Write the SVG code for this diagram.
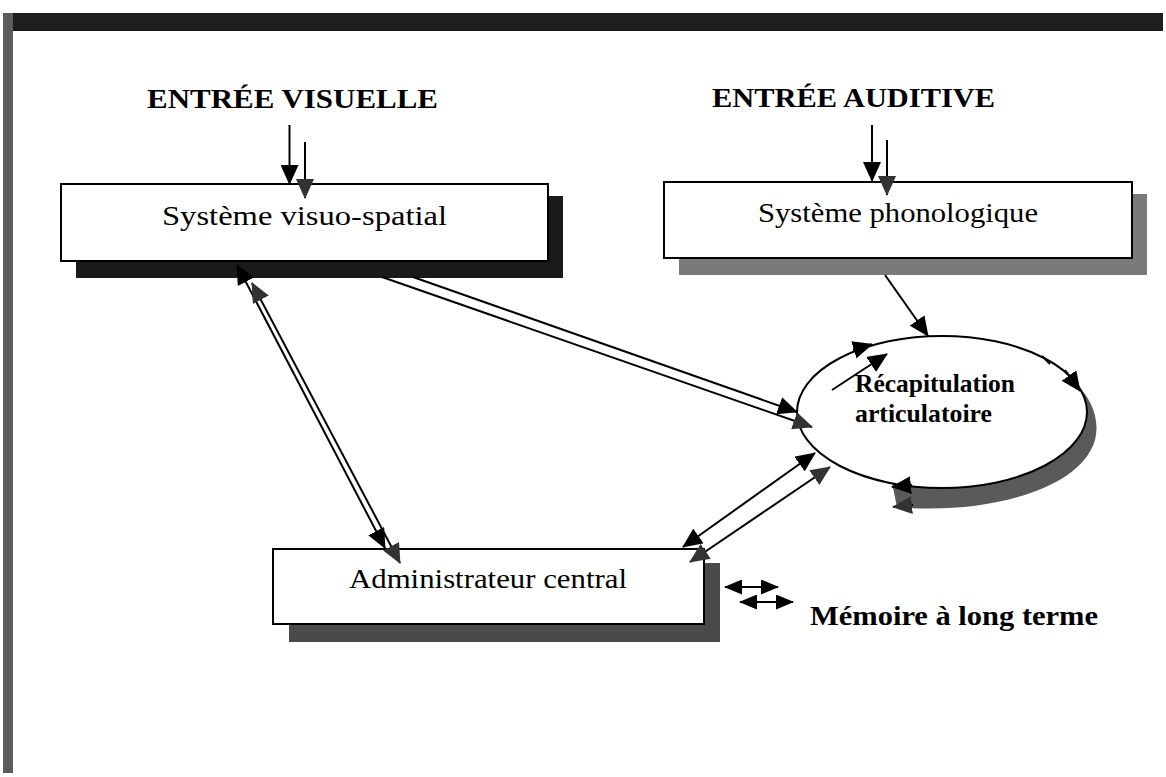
<svg xmlns="http://www.w3.org/2000/svg" width="1166" height="777" viewBox="0 0 1166 777">
<defs>
<style>
.box{fill:#fff;stroke:#000;stroke-width:2}
.lbl{font-family:"Liberation Serif","Times New Roman",serif;font-size:28px;fill:#000}
.ttl{font-family:"Liberation Serif","Times New Roman",serif;font-size:28px;font-weight:bold;fill:#000}
.rc{font-family:"Liberation Serif","Times New Roman",serif;font-size:25px;font-weight:bold;fill:#000}
.c{stroke:#000;stroke-width:2;fill:none}
</style>
<marker id="ah" markerWidth="20" markerHeight="18" refX="19" refY="9" orient="auto-start-reverse" markerUnits="userSpaceOnUse"><path d="M0,0 L20,9 L0,18 Z" fill="#000"/></marker>
<marker id="ahg" markerWidth="20" markerHeight="18" refX="19" refY="9" orient="auto-start-reverse" markerUnits="userSpaceOnUse"><path d="M0,0 L20,9 L0,18 Z" fill="#333"/></marker>
<marker id="ahs" markerWidth="18" markerHeight="15" refX="17" refY="7.5" orient="auto-start-reverse" markerUnits="userSpaceOnUse"><path d="M0,0 L18,7.5 L0,15 Z" fill="#000"/></marker>
</defs>
<rect width="1166" height="777" fill="#fff"/>
<g id="frame">
<rect x="3" y="13" width="1160" height="18" fill="#1e1e1e"/>
<rect x="3" y="13" width="10" height="760" fill="#5c5c5c"/>
</g>
<g id="entree-visuelle"><text class="ttl" x="147" y="108" textLength="291" lengthAdjust="spacingAndGlyphs">ENTRÉE VISUELLE</text></g>
<g id="entree-auditive"><text class="ttl" x="712" y="107" textLength="283" lengthAdjust="spacingAndGlyphs">ENTRÉE AUDITIVE</text></g>
<g id="visuo-spatial">
<rect x="76" y="196" width="487" height="82" fill="#1a1a1a"/>
<rect class="box" x="61" y="184" width="487" height="77"/>
<text class="lbl" x="162" y="225" textLength="285" lengthAdjust="spacingAndGlyphs">Système visuo-spatial</text>
</g>
<g id="phonologique">
<rect x="679" y="194" width="468" height="81" fill="#7a7a7a"/>
<rect class="box" x="664" y="182" width="468" height="76"/>
<text class="lbl" x="758" y="222" textLength="280" lengthAdjust="spacingAndGlyphs">Système phonologique</text>
</g>
<g id="administrateur">
<rect x="289" y="563" width="431" height="79" fill="#4a4a4a"/>
<rect class="box" x="273" y="549" width="431" height="75"/>
<text class="lbl" x="349" y="588" textLength="278" lengthAdjust="spacingAndGlyphs">Administrateur central</text>
</g>
<g id="recapitulation">
<path d="M1078 386 A145 76 0 0 1 892 483 L897 507 C980 515 1080 492 1095 440 C1100 420 1092 400 1078 386 Z" fill="#5a5a5a"/>
<ellipse cx="942" cy="412" rx="145" ry="76" fill="#fff" stroke="#000" stroke-width="2"/>
<text class="rc" x="855" y="392" textLength="160" lengthAdjust="spacingAndGlyphs">Récapitulation</text>
<text class="rc" x="855" y="422" textLength="137" lengthAdjust="spacingAndGlyphs">articulatoire</text>
</g>
<g id="memoire"><text class="ttl" x="810" y="625" textLength="288" lengthAdjust="spacingAndGlyphs">Mémoire à long terme</text></g>
<g id="connectors">
<path class="c" d="M289.5 125 V184" marker-end="url(#ah)"/>
<path class="c" d="M305 142 V198" marker-end="url(#ahg)"/>
<path class="c" d="M872 125 V181" marker-end="url(#ah)"/>
<path class="c" d="M887 140 V195" marker-end="url(#ahg)"/>
<path class="c" d="M885 275 L928 336" marker-end="url(#ah)"/>
<path class="c" d="M413 277 L797 412" marker-end="url(#ah)"/>
<path class="c" d="M382 277 L812 427" marker-end="url(#ahg)"/>
<path class="c" d="M237 265 L385 548" marker-start="url(#ah)" marker-end="url(#ah)"/>
<path class="c" d="M252 283 L400 563" marker-start="url(#ahg)" marker-end="url(#ahg)"/>
<path class="c" d="M683 547 L815 453" marker-start="url(#ah)" marker-end="url(#ah)"/>
<path class="c" d="M690 562 L830 467" marker-start="url(#ahg)" marker-end="url(#ahg)"/>
<path class="c" d="M832 390 L887 354" marker-end="url(#ah)"/>
<path class="c" d="M853 350 L872 344.3" marker-end="url(#ah)"/>
<path class="c" d="M1065 370 L1080 391" marker-end="url(#ah)"/>
<path class="c" d="M1042 356 L1050 364"/>
<path class="c" d="M912 485 L892 487" marker-end="url(#ah)"/>
<path class="c" d="M913 505 L893 507" marker-end="url(#ahg)"/>
<path class="c" d="M725 587 L778 587" marker-start="url(#ahs)" marker-end="url(#ahs)"/>
<path class="c" d="M740 602 L793 602" marker-start="url(#ahs)" marker-end="url(#ahs)"/>
</g>
</svg>
